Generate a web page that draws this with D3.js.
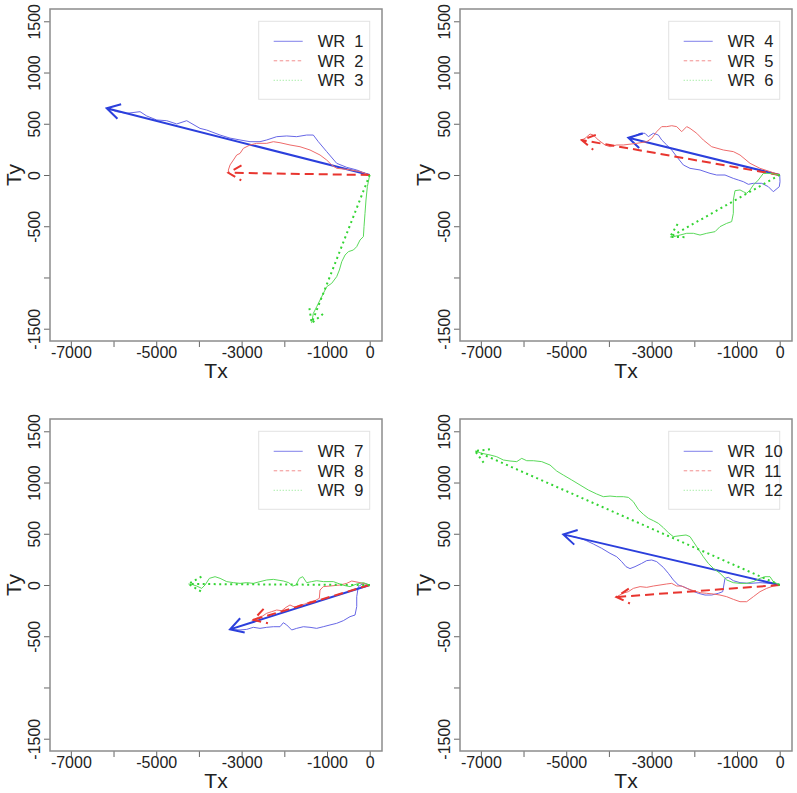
<!DOCTYPE html>
<html>
<head>
<meta charset="utf-8">
<script src="https://cdn.jsdelivr.net/npm/d3@7"></script>
<style>
  body { margin: 0; background: #fff; }
  svg { display: block; font-family: "Liberation Sans", Arial, Helvetica, sans-serif; }
</style>
</head>
<body>
<svg id="chart" width="797" height="793"></svg>
<script>
// axis setup
const xTicks = [-7000, -6000, -5000, -4000, -3000, -2000, -1000, 0];
const xLabelled = [-7000, -5000, -3000, -1000, 0];
const yTicks = [-1500, -1000, -500, 0, 500, 1000, 1500];
const yLabelled = [-1500, -500, 0, 500, 1000, 1500];
const xDomain = [-7488, 288];
const yDomain = [-1620, 1620];

// walks: [Tx, Ty], the last point is where the arrow ends
const wr1 = [[0,0],[-304,49],[-539,75],[-773,114],[-1007,228],[-1203,325],[-1321,390],[-1476,390],[-1710,374],[-1944,381],[-2178,374],[-2412,342],[-2569,325],[-2803,325],[-3037,342],[-3271,360],[-3505,390],[-3818,439],[-3974,455],[-4286,530],[-4520,498],[-4754,530],[-4989,537],[-5223,576],[-5379,618],[-5691,602],[-5926,618],[-6160,651]];
const wr2 = [[0,0],[-227,33],[-539,55],[-773,65],[-890,98],[-1007,146],[-1163,195],[-1398,244],[-1632,276],[-1866,293],[-2100,315],[-2256,325],[-2412,309],[-2647,309],[-2803,293],[-2959,260],[-3037,211],[-3115,195],[-3193,146],[-3271,98],[-3310,49],[-3310,22]];
const wr3 = [[0,0],[-55,-114],[-87,-244],[-110,-374],[-133,-504],[-148,-602],[-226,-634],[-304,-699],[-382,-732],[-499,-748],[-577,-781],[-655,-846],[-710,-927],[-773,-992],[-890,-1057],[-1007,-1090],[-1085,-1155],[-1163,-1220],[-1241,-1285],[-1320,-1350],[-1360,-1445]];
const wr4 = [[0,0],[7,-65],[-9,-114],[-150,-163],[-267,-114],[-422,-81],[-618,-81],[-735,-91],[-852,-65],[-969,-49],[-1087,-33],[-1281,0],[-1476,0],[-1632,16],[-1866,49],[-2101,65],[-2257,98],[-2412,179],[-2529,244],[-2646,293],[-2764,342],[-2842,390],[-2960,407],[-3077,374],[-3155,407],[-3272,407],[-3428,374],[-3545,364]];
const wr5 = [[0,0],[-227,33],[-461,65],[-695,114],[-929,195],[-1085,228],[-1320,244],[-1593,276],[-1788,341],[-1944,407],[-2100,455],[-2178,472],[-2295,423],[-2412,472],[-2529,481],[-2646,472],[-2764,472],[-2881,423],[-2998,358],[-3115,325],[-3350,309],[-3662,293],[-3818,293],[-3974,276],[-4091,293],[-4247,341],[-4364,390],[-4442,400],[-4559,358],[-4637,341]];
const wr6 = [[0,0],[-227,16],[-383,16],[-500,-49],[-617,-98],[-695,-146],[-773,-179],[-851,-163],[-929,-146],[-1047,-153],[-1086,-244],[-1086,-374],[-1125,-455],[-1242,-472],[-1398,-504],[-1515,-553],[-1710,-569],[-1866,-586],[-2022,-569],[-2178,-569],[-2334,-586],[-2490,-602],[-2570,-605]];
const wr7 = [[0,0],[-150,16],[-267,-16],[-304,-114],[-304,-211],[-344,-293],[-461,-309],[-618,-348],[-773,-374],[-930,-390],[-1087,-407],[-1242,-423],[-1398,-413],[-1554,-407],[-1710,-423],[-1827,-439],[-1944,-390],[-2023,-368],[-2101,-407],[-2257,-407],[-2412,-413],[-2569,-423],[-2726,-413],[-2881,-433],[-3037,-439],[-3271,-433]];
const wr8 = [[0,0],[-227,23],[-422,39],[-539,16],[-696,0],[-930,-10],[-1087,-16],[-1164,-49],[-1180,-130],[-1281,-153],[-1398,-163],[-1515,-186],[-1632,-195],[-1749,-218],[-1867,-195],[-1960,-218],[-2061,-251],[-2178,-244],[-2295,-260],[-2412,-276],[-2506,-302],[-2609,-315],[-2726,-340]];
const wr9 = [[0,0],[-148,23],[-305,10],[-461,-16],[-617,-3],[-851,33],[-1085,33],[-1241,42],[-1359,33],[-1476,23],[-1569,81],[-1647,65],[-1726,0],[-1803,-10],[-1897,23],[-2022,39],[-2256,55],[-2412,49],[-2568,33],[-2725,16],[-2881,23],[-3037,16],[-3193,23],[-3349,33],[-3505,65],[-3622,81],[-3755,65],[-3857,0],[-3935,-33],[-4052,-10],[-4169,6],[-4247,10]];
const wr10 = [[0,0],[-227,16],[-461,23],[-695,16],[-930,23],[-1086,42],[-1203,75],[-1281,65],[-1335,-65],[-1437,-81],[-1593,-98],[-1749,-98],[-1906,-81],[-2061,-55],[-2218,-23],[-2374,0],[-2491,49],[-2608,114],[-2726,172],[-2881,228],[-2998,244],[-3115,238],[-3232,211],[-3389,179],[-3506,160],[-3600,179],[-3701,228],[-3818,276],[-3974,309],[-4169,358],[-4365,400],[-4560,439],[-4754,465],[-4911,478],[-5068,494]];
const wr11 = [[0,0],[-150,-10],[-306,-33],[-461,-65],[-617,-114],[-774,-163],[-930,-163],[-1086,-140],[-1242,-114],[-1398,-98],[-1554,-88],[-1710,-81],[-1866,-75],[-2022,-55],[-2179,-33],[-2296,-10],[-2413,-10],[-2530,16],[-2647,10],[-2803,0],[-2959,-10],[-3115,-23],[-3271,-16],[-3428,-33],[-3545,-65],[-3677,-81],[-3825,-117]];
const wr12 = [[0,0],[-150,33],[-227,81],[-344,81],[-461,65],[-618,33],[-773,16],[-930,16],[-1087,23],[-1241,49],[-1398,114],[-1555,163],[-1672,211],[-1789,276],[-1866,325],[-1944,374],[-2023,423],[-2101,472],[-2194,488],[-2335,481],[-2492,472],[-2609,511],[-2726,560],[-2843,602],[-2960,628],[-3077,651],[-3194,690],[-3312,738],[-3428,813],[-3545,855],[-3663,862],[-3818,862],[-3974,868],[-4131,862],[-4286,888],[-4482,927],[-4677,976],[-4871,1025],[-5068,1073],[-5223,1112],[-5380,1171],[-5574,1204],[-5771,1213],[-5925,1213],[-6042,1236],[-6159,1204],[-6316,1210],[-6473,1220],[-6628,1252],[-6785,1269],[-6979,1285],[-7136,1308]];

const panels = [
  { names: ['WR  1', 'WR  2', 'WR  3'], walks: [wr1, wr2, wr3] },
  { names: ['WR  4', 'WR  5', 'WR  6'], walks: [wr4, wr5, wr6] },
  { names: ['WR  7', 'WR  8', 'WR  9'], walks: [wr7, wr8, wr9] },
  { names: ['WR  10', 'WR  11', 'WR  12'], walks: [wr10, wr11, wr12] },
];

// look of the three walks in every panel
const arrowColors = ['#2b3fdc', '#e8352f', '#33d433'];
const pathColors = ['#6767e6', '#ee6b6b', '#5ad95a'];
const legendColors = ['#7f7fea', '#f28e8e', '#85e685'];
const arrowDash = [null, '9,5', '2,3.5'];
const legendDash = [null, '3.5,2.5', '1,2'];

const box = { left: 50, right: 382, top: 9, bottom: 341 };
const step = 410;

const svg = d3.select('#chart');
const x = d3.scaleLinear().domain(xDomain).range([box.left, box.right]);
const y = d3.scaleLinear().domain(yDomain).range([box.bottom, box.top]);
const line = d3.line().x((d) => x(d[0])).y((d) => y(d[1]));

function drawArrow(g, end, i) {
  const x0 = x(0), y0 = y(0), x1 = x(end[0]), y1 = y(end[1]);
  const ang = Math.atan2(y1 - y0, x1 - x0);
  const len = 15, spread = Math.PI / 6;
  const hx1 = x1 - len * Math.cos(ang - spread), hy1 = y1 - len * Math.sin(ang - spread);
  const hx2 = x1 - len * Math.cos(ang + spread), hy2 = y1 - len * Math.sin(ang + spread);
  g.append('path')
    .attr('d', `M${x0},${y0}L${x1},${y1}M${hx1},${hy1}L${x1},${y1}L${hx2},${hy2}`)
    .attr('fill', 'none')
    .attr('stroke', arrowColors[i])
    .attr('stroke-width', 2)
    .attr('stroke-dasharray', arrowDash[i]);
}

panels.forEach((panel, p) => {
  const g = svg
    .append('g')
    .attr('transform', `translate(${(p % 2) * step}, ${Math.floor(p / 2) * step})`);

  // x axis
  const gx = g
    .append('g')
    .attr('transform', `translate(0, ${box.bottom})`)
    .call(
      d3.axisBottom(x)
        .tickValues(xTicks)
        .tickSize(6)
        .tickFormat((d) => (xLabelled.includes(d) ? String(d) : ''))
    );
  gx.select('.domain').remove();
  gx.selectAll('line').attr('stroke', '#666');
  gx.selectAll('text')
    .attr('y', 17)
    .attr('dy', 0)
    .attr('fill', '#222')
    .style('font-size', '16px')
    .style('font-family', '"Liberation Sans", Arial, sans-serif');

  // y axis, labels turned like R does
  const gy = g
    .append('g')
    .attr('transform', `translate(${box.left}, 0)`)
    .call(
      d3.axisLeft(y)
        .tickValues(yTicks)
        .tickSize(6)
        .tickFormat((d) => (yLabelled.includes(d) ? String(d) : ''))
    );
  gy.select('.domain').remove();
  gy.selectAll('line').attr('stroke', '#666');
  gy.selectAll('text')
    .attr('x', null)
    .attr('dy', 0)
    .attr('text-anchor', 'middle')
    .attr('transform', 'translate(-10.5, 0) rotate(-90)')
    .attr('fill', '#222')
    .style('font-size', '16px')
    .style('font-family', '"Liberation Sans", Arial, sans-serif');

  g.append('rect')
    .attr('x', box.left)
    .attr('y', box.top)
    .attr('width', box.right - box.left)
    .attr('height', box.bottom - box.top)
    .attr('fill', 'none')
    .attr('stroke', '#8c8c8c')
    .attr('stroke-width', 1.5);

  g.append('text')
    .attr('x', (box.left + box.right) / 2)
    .attr('y', 378)
    .attr('text-anchor', 'middle')
    .attr('fill', '#222')
    .style('font-size', '21px')
    .text('Tx');

  g.append('text')
    .attr('text-anchor', 'middle')
    .attr('transform', `translate(21, ${y(0)}) rotate(-90)`)
    .attr('fill', '#222')
    .style('font-size', '21px')
    .text('Ty');

  // walks and their arrows
  panel.walks.forEach((walk, i) => {
    g.append('path')
      .attr('d', line(walk))
      .attr('fill', 'none')
      .attr('stroke', pathColors[i])
      .attr('stroke-width', 1);
    drawArrow(g, walk[walk.length - 1], i);
  });

  // legend in the top right corner
  const lg = g.append('g').attr('transform', `translate(${x(0) - 111}, ${y(1500)})`);
  lg.append('rect')
    .attr('width', 111)
    .attr('height', 78)
    .attr('fill', '#fff')
    .attr('stroke', '#e2e2e2');
  panel.names.forEach((name, i) => {
    const ly = 20 + i * 19.5;
    lg.append('line')
      .attr('x1', 15)
      .attr('x2', 44)
      .attr('y1', ly)
      .attr('y2', ly)
      .attr('stroke', legendColors[i])
      .attr('stroke-width', 1)
      .attr('stroke-dasharray', legendDash[i]);
    lg.append('text')
      .attr('x', 59)
      .attr('y', ly + 6)
      .attr('fill', '#222')
      .style('font-size', '16.5px')
      .style('white-space', 'pre')
      .text(name);
  });
});
</script>
</body>
</html>
